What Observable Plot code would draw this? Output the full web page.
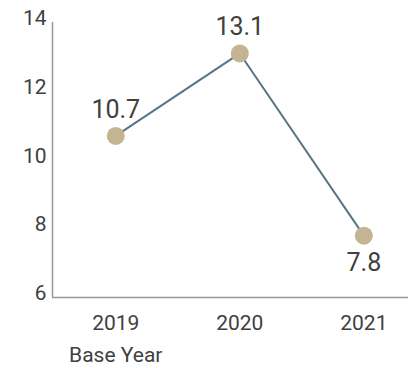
<!DOCTYPE html>
<html>
<head>
<meta charset="utf-8">
<script src="https://cdn.jsdelivr.net/npm/d3@7"></script>
<script src="https://cdn.jsdelivr.net/npm/@observablehq/plot@0.6"></script>
<style>
  html, body { margin: 0; padding: 0; background: #fff; }
  #chart svg { display: block; }
</style>
</head>
<body>
<div id="chart"></div>
<script>
const years = [2019, 2020, 2021];
const values = [10.7, 13.1, 7.8];
const labelPos = ["above", "above", "below"];
const yTicks = [6, 8, 10, 12, 14];
const baseYear = 2019;
const baseLabel = "Base Year";

const data = years.map((y, i) => ({year: y, value: values[i], pos: labelPos[i]}));
const xDomain = [2018.49, 2021.36];
const yDomain = [6, 14];

const font = "Roboto, 'Liberation Sans', sans-serif";
const textColor = "#404040";

const chart = Plot.plot({
  width: 408,
  height: 368,
  marginLeft: 52,
  marginRight: 0,
  marginTop: 22,
  marginBottom: 71,
  style: {fontFamily: font, color: textColor, background: "#fff", overflow: "visible"},
  x: {type: "linear", domain: xDomain},
  y: {domain: yDomain},
  marks: [
    Plot.axisX({ticks: years, tickFormat: d => String(d), tickSize: 0, tickPadding: 18, fontSize: 21, label: null, fill: textColor}),
    Plot.axisY({ticks: yTicks, tickSize: 0, tickPadding: 6, fontSize: 21, label: null, fill: textColor, dy: -4}),
    Plot.ruleY([yDomain[0]], {stroke: "#999", strokeWidth: 1.5}),
    Plot.ruleX([xDomain[0]], {stroke: "#999", strokeWidth: 1.5}),
    Plot.line(data, {x: "year", y: "value", stroke: "#587585", strokeWidth: 2}),
    Plot.dot(data, {x: "year", y: "value", r: 9, fill: "#c3b592", stroke: "none"}),
    Plot.text(data.filter(d => d.pos === "above"), {x: "year", y: "value", text: d => d.value.toFixed(1), dy: -26, fontSize: 25, fill: textColor}),
    Plot.text(data.filter(d => d.pos === "below"), {x: "year", y: "value", text: d => d.value.toFixed(1), dy: 27, fontSize: 25, fill: textColor}),
    Plot.text([baseYear], {x: d => d, y: yDomain[0], text: () => baseLabel, dy: 58, fontSize: 21, fill: textColor})
  ]
});
document.getElementById("chart").appendChild(chart);
</script>
</body>
</html>
